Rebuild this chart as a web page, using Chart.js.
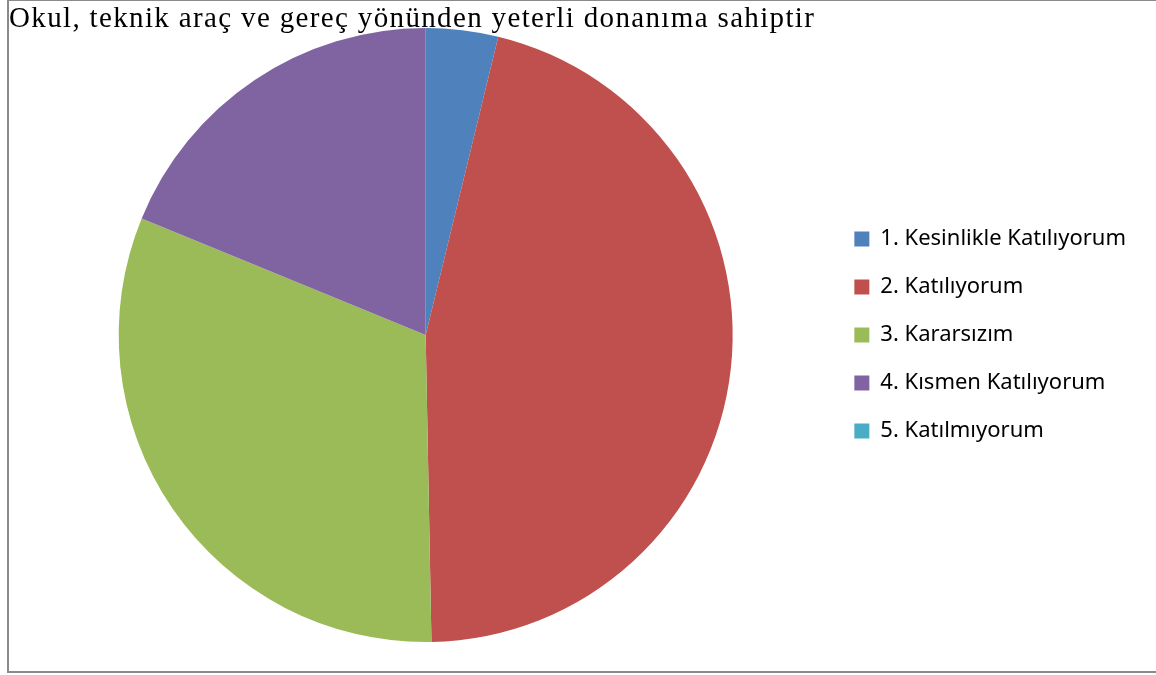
<!DOCTYPE html>
<html>
<head>
<meta charset="utf-8">
<script src="https://cdn.jsdelivr.net/npm/chart.js@4"></script>
<style>
  html, body { margin: 0; padding: 0; background: #fff; overflow: hidden; }
  #frame { position: absolute; left: 7px; top: -1px; width: 1160px; height: 674px; border: 2px solid #8a8a8a; box-sizing: border-box; }
  #title { position: absolute; left: 9px; top: 3px; font-family: "Liberation Serif", serif; font-size: 29px; line-height: 29px; letter-spacing: 1.35px; color: #000; white-space: nowrap; z-index: 2; }
  #wrap { position: absolute; left: 9px; top: 1px; width: 1142px; height: 669px; }
</style>
</head>
<body>
<div id="frame"></div>
<div id="wrap"><canvas id="myChart"></canvas></div>
<div id="title">Okul, teknik araç ve gereç yönünden yeterli donanıma sahiptir</div>
<script>
const categories = ['1. Kesinlikle Katılıyorum', '2. Katılıyorum', '3. Kararsızım', '4. Kısmen Katılıyorum', '5. Katılmıyorum'];
const percentages = [3.8, 45.9, 31.5, 18.8, 0];
const sliceColors = ['#4F81BD', '#C0504D', '#9BBB59', '#8064A2', '#4BACC6'];

const ctx = document.getElementById('myChart').getContext('2d');
const myChart = new Chart(ctx, {
    type: 'pie',
    data: {
        labels: categories,
        datasets: [{
            data: percentages,
            backgroundColor: sliceColors,
            borderWidth: 0
        }]
    },
    options: {
        responsive: true,
        maintainAspectRatio: false,
        animation: false,
        layout: {
            padding: { left: 14, right: 15, top: 27, bottom: 28 }
        },
        plugins: {
            legend: {
                position: 'right',
                labels: {
                    boxWidth: 15,
                    boxHeight: 15,
                    padding: 26,
                    color: '#000',
                    font: { family: 'Noto Sans', size: 22 }
                }
            },
            tooltip: { enabled: false }
        }
    }
});
</script>
</body>
</html>
